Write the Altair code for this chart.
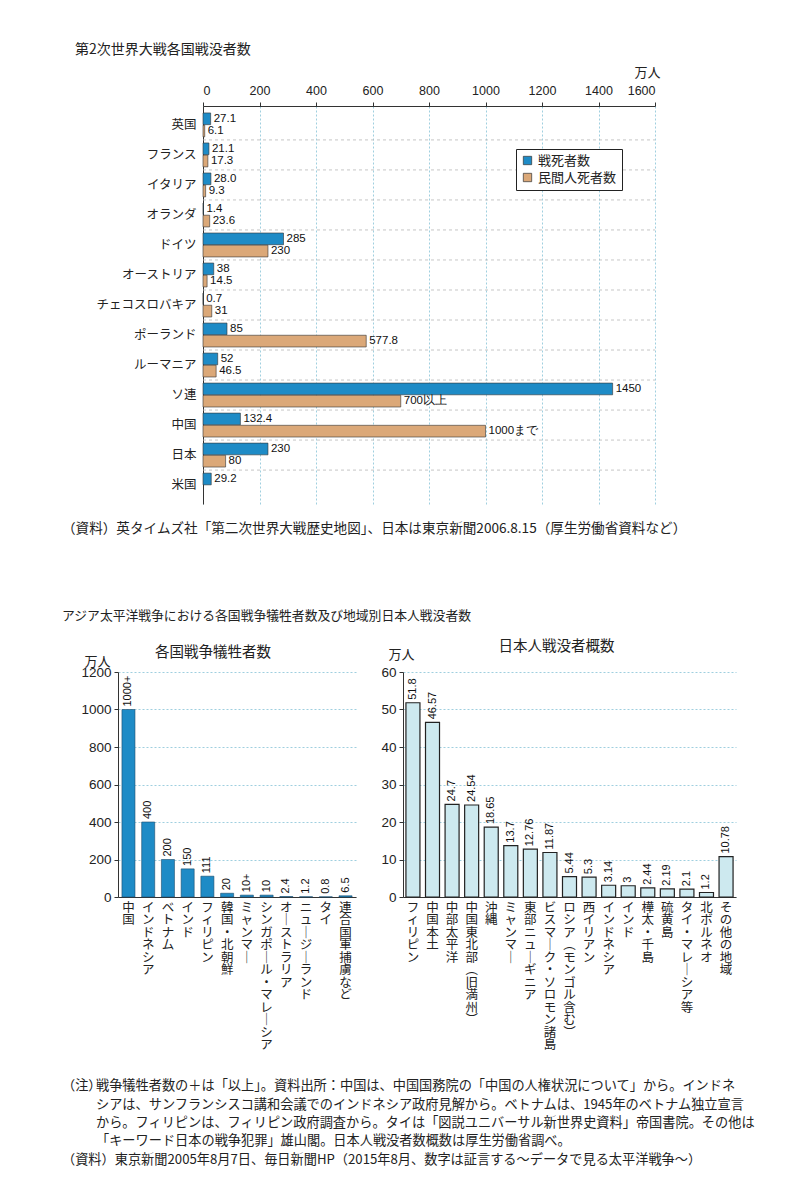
import altair as alt
import pandas as pd

JP = "Noto Sans CJK JP"
NUM = "Liberation Sans"
NARROW = "Liberation Sans Narrow, Liberation Sans"

# ---------------- Data: WWII deaths by country (万人) ----------------
countries = ["英国", "フランス", "イタリア", "オランダ", "ドイツ", "オーストリア",
             "チェコスロバキア", "ポーランド", "ルーマニア", "ソ連", "中国", "日本", "米国"]
military = [27.1, 21.1, 28.0, 1.4, 285, 38, 0.7, 85, 52, 1450, 132.4, 230, 29.2]
military_labels = ["27.1", "21.1", "28.0", "1.4", "285", "38", "0.7", "85", "52",
                   "1450", "132.4", "230", "29.2"]
civilian = [6.1, 17.3, 9.3, 23.6, 230, 14.5, 31, 577.8, 46.5, 700, 1000, 80]
civilian_labels = ["6.1", "17.3", "9.3", "23.6", "230", "14.5", "31", "577.8", "46.5",
                   "700以上", "1000まで", "80"]
series_names = ["戦死者数", "民間人死者数"]
series_colors = ["#1e8bc6", "#dba878"]

# ---------------- Data: Asia-Pacific war victims (万人) ----------------
victim_countries = ["中国", "インドネシア", "ベトナム", "インド", "フィリピン", "韓国・北朝鮮",
                    "ミャンマー", "シンガポール・マレーシア", "オーストラリア",
                    "ニュージーランド", "タイ", "連合国軍捕虜など"]
victim_values = [1000, 400, 200, 150, 111, 20, 10, 10, 2.4, 1.2, 0.8, 6.5]
victim_labels = ["1000+", "400", "200", "150", "111", "20", "10+", "10", "2.4", "1.2",
                 "0.8", "6.5"]

# ---------------- Data: Japanese war dead by region (万人) ----------------
regions = ["フィリピン", "中国本土", "中部太平洋", "中国東北部(旧満州)", "沖縄", "ミャンマー",
           "東部ニューギニア", "ビスマーク・ソロモン諸島", "ロシア(モンゴル含む)", "西イリアン",
           "インドネシア", "インド", "樺太・千島", "硫黄島", "タイ・マレーシア等", "北ボルネオ",
           "その他の地域"]
jp_values = [51.8, 46.57, 24.7, 24.54, 18.65, 13.7, 12.76, 11.87, 5.44, 5.3, 3.14, 3,
             2.44, 2.19, 2.1, 1.2, 10.78]
jp_labels = ["51.8", "46.57", "24.7", "24.54", "18.65", "13.7", "12.76", "11.87", "5.44",
             "5.3", "3.14", "3", "2.44", "2.19", "2.1", "1.2", "10.78"]

title1 = "第2次世界大戦各国戦没者数"
source1 = "（資料）英タイムズ社「第二次世界大戦歴史地図」、日本は東京新聞2006.8.15（厚生労働省資料など）"
title2 = "アジア太平洋戦争における各国戦争犠牲者数及び地域別日本人戦没者数"
sub_left = "各国戦争犠牲者数"
sub_right = "日本人戦没者概数"
unit = "万人"
note_head = "（注）"
note_body = [
    "戦争犠牲者数の＋は「以上」。資料出所：中国は、中国国務院の「中国の人権状況について」から。インドネ",
    "シアは、サンフランシスコ講和会議でのインドネシア政府見解から。ベトナムは、1945年のベトナム独立宣言",
    "から。フィリピンは、フィリピン政府調査から。タイは「図説ユニバーサル新世界史資料」帝国書院。その他は",
    "「キーワード日本の戦争犯罪」雄山閣。日本人戦没者数概数は厚生労働省調べ。",
]
source2 = "（資料）東京新聞2005年8月7日、毎日新聞HP（2015年8月、数字は証言する～データで見る太平洋戦争～）"

GRID = "#9fcfdf"
TXT = "#222"

# Layout: every panel's plot origin is aligned at x=118 px (bottom-left chart axis).
# The top chart's bar area starts 85 px to the right of that origin.
TOP_SHIFT = 85
TOP_W = 452

# ---------------- Top chart ----------------
rows = []
for c, v, l in zip(countries, military, military_labels):
    rows.append({"country": c, "series": series_names[0], "value": v, "label": l})
for c, v, l in zip(countries, civilian, civilian_labels):
    rows.append({"country": c, "series": series_names[1], "value": v, "label": l})
top_df = pd.DataFrame(rows)

y_axis_top = alt.Axis(title=None, labelFont=JP, labelFontSize=12.5, labelColor=TXT,
                      ticks=False, domainColor="#333", labelPadding=7, offset=-TOP_SHIFT)
y_scale_top = alt.Scale(paddingInner=0, paddingOuter=0.13)
ty = alt.Y("country:N", sort=countries, scale=y_scale_top, axis=y_axis_top)
ty_sep = alt.Y("country:N", sort=countries, scale=y_scale_top, axis=y_axis_top,
               bandPosition=0)
tyo = alt.YOffset("series:N", sort=series_names,
                  scale=alt.Scale(paddingOuter=0.25, paddingInner=0.04))
tx = alt.X("value:Q",
           scale=alt.Scale(domain=[0, 1600], nice=False,
                           range=[TOP_SHIFT, TOP_SHIFT + TOP_W]),
           axis=alt.Axis(orient="top", values=list(range(0, 1601, 200)), format="d",
                         title=unit, titleX=TOP_SHIFT + 444, titleY=-34,
                         titleAlign="center", titleBaseline="middle", titleFont=JP,
                         titleFontSize=13, titleFontWeight="normal", titleColor=TXT,
                         labelFont=NUM, labelFontSize=12.5, labelColor=TXT,
                         tickSize=4, tickColor="#333", domainColor="#333", labelPadding=5,
                         grid=True, gridColor=GRID, gridDash=[2, 2]))

# faint dashed separators between country groups
sep_df = pd.DataFrame({"country": countries[1:]})
top_sep = alt.Chart(sep_df).mark_rule(color="#b8b8b8", strokeDash=[3, 3],
                                      strokeWidth=0.8).encode(
    y=ty_sep, x=alt.datum(0, type="quantitative"), x2=alt.datum(1600))

top_base = alt.Chart(top_df)
top_bars = top_base.mark_bar(stroke="#333", strokeWidth=0.6).encode(
    x=tx, y=ty, yOffset=tyo,
    color=alt.Color("series:N", sort=series_names,
                    scale=alt.Scale(domain=series_names, range=series_colors),
                    legend=alt.Legend(title=None, orient="none",
                                      legendX=TOP_SHIFT + 313, legendY=43,
                                      strokeColor="#222", fillColor="white", padding=5,
                                      labelFont=JP, labelFontSize=13, labelColor=TXT,
                                      symbolType="square", symbolSize=70,
                                      symbolStrokeColor="#333", symbolStrokeWidth=0.7,
                                      rowPadding=3)),
)
top_text = top_base.mark_text(align="left", baseline="middle", dx=3, font=NARROW,
                              fontSize=11.5, color="#111").encode(
    x=tx, y=ty, yOffset=tyo, text="label:N")

top = alt.layer(top_bars, top_sep, top_text).properties(
    width=TOP_SHIFT + TOP_W, height=398,
    title=alt.TitleParams(source1, orient="bottom", anchor="start", frame="group",
                          dx=-56, offset=18, font=JP, fontSize=13.6, fontWeight="normal",
                          color=TXT))

# ---------------- Vertical label expression ----------------
VERT = ("split(replace(replace(replace(datum.label, regexp('ー','g'), '｜'), "
        "regexp('[(（]','g'), '︵'), regexp('[)）]','g'), '︶'), '')")


def x_axis():
    return alt.Axis(title=None, labelAngle=0, labelExpr=VERT, labelFont=JP,
                    labelFontSize=12.5, labelLineHeight=12.5, labelBaseline="top",
                    labelAlign="center", labelColor=TXT, ticks=False, labelPadding=4,
                    labelOverlap=False, labelLimit=0, domainColor="#333")


def y_axis(vals, tx_, ty_):
    return alt.Axis(values=vals, format="d", title=unit, titleAngle=0, titleX=tx_,
                    titleY=ty_, titleAlign="center", titleBaseline="middle", titleFont=JP,
                    titleFontSize=13, titleFontWeight="normal", titleColor=TXT,
                    labelFont=NUM, labelFontSize=13.5, labelColor=TXT, tickSize=4,
                    tickColor="#333", domainColor="#333", labelPadding=3,
                    grid=True, gridColor=GRID, gridDash=[2, 2])


# ---------------- Bottom-left chart ----------------
vic_df = pd.DataFrame({"country": victim_countries, "value": victim_values,
                       "label": victim_labels})
vx = alt.X("country:N", sort=victim_countries,
           scale=alt.Scale(paddingInner=0.34, paddingOuter=0.2), axis=x_axis())
vy = alt.Y("value:Q", scale=alt.Scale(domain=[0, 1200], nice=False),
           axis=y_axis(list(range(0, 1201, 200)), -21, -11))
vbase = alt.Chart(vic_df)
vbars = vbase.mark_bar(color="#1e8bc6", stroke="#1b4c6b", strokeWidth=0.6).encode(x=vx, y=vy)
vtext = vbase.mark_text(angle=270, align="left", baseline="middle", dx=3, font=NUM,
                        fontSize=11, color="#111").encode(x=vx, y=vy, text="label:N")
left = alt.layer(vbars, vtext).properties(
    width=238, height=225,
    title=alt.TitleParams(sub_left, anchor="middle", dx=-24, offset=-5, font=JP,
                          fontSize=14.5, fontWeight="normal", color=TXT))

# ---------------- Bottom-right chart ----------------
jp_df = pd.DataFrame({"region": regions, "value": jp_values, "label": jp_labels})
jx = alt.X("region:N", sort=regions,
           scale=alt.Scale(paddingInner=0.284, paddingOuter=0.15), axis=x_axis())
jy = alt.Y("value:Q", scale=alt.Scale(domain=[0, 60], nice=False),
           axis=y_axis(list(range(0, 61, 10)), -2, -18))
jbase = alt.Chart(jp_df)
jbars = jbase.mark_bar(color="#cde9ef", stroke="#222", strokeWidth=1.2).encode(x=jx, y=jy)
jtext = jbase.mark_text(angle=270, align="left", baseline="middle", dx=3, font=NUM,
                        fontSize=11, color="#111").encode(x=jx, y=jy, text="label:N")
right = alt.layer(jbars, jtext).properties(
    width=333, height=225,
    title=alt.TitleParams(sub_right, anchor="middle", dx=-13, offset=-6, font=JP,
                          fontSize=14.5, fontWeight="normal", color=TXT))

hrow = alt.hconcat(left, right, spacing=24)

# ---------------- Notes ----------------
head_df = pd.DataFrame({"i": [0, len(note_body)], "t": [note_head, source2]})
body_df = pd.DataFrame({"i": list(range(len(note_body))), "t": note_body})
ny = alt.Y("i:O", axis=None, scale=alt.Scale(domain=list(range(len(note_body) + 1))))
notes_head = alt.Chart(head_df).mark_text(align="left", baseline="middle", font=JP,
                                          fontSize=13.2, color=TXT).encode(
    y=ny, x=alt.value(-56), text="t:N")
notes_body = alt.Chart(body_df).mark_text(align="left", baseline="middle", font=JP,
                                          fontSize=13.2, color=TXT).encode(
    y=ny, x=alt.value(-22), text="t:N")
notes = alt.layer(notes_head, notes_body).properties(width=560, height=92)

inner = alt.vconcat(hrow, notes, spacing=26).properties(
    title=alt.TitleParams(title2, anchor="start", frame="group", dx=-56, offset=16,
                          font=JP, fontSize=12.8, fontWeight="normal", color=TXT))

chart = alt.vconcat(top, inner, spacing=73).properties(
    padding={"left": 54, "top": 35, "right": 5, "bottom": 5},
    background="white",
    title=alt.TitleParams(title1, anchor="start", frame="group", dx=-43, font=JP,
                          fontSize=14, fontWeight="normal", color=TXT, offset=9),
).configure_view(stroke=None)

chart.save("out.html", embed_options={"renderer": "svg", "actions": False})
